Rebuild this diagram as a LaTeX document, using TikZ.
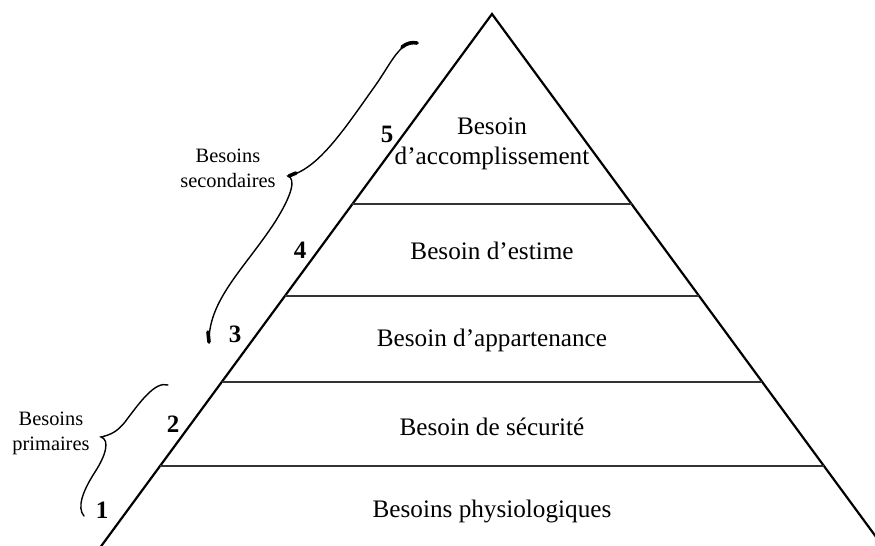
\documentclass[tikz,border=0pt]{standalone}
\usepackage{fontspec}
\setmainfont{Liberation Serif}
\usetikzlibrary{calc}

\begin{document}
\begin{tikzpicture}[x=0.5pt,y=-0.5pt,
        side/.style={line width=1.1pt},
        level/.style={line width=0.9pt, black!80},
        need/.style={font=\fontsize{12.6}{15}\selectfont, align=center, inner sep=0pt},
        num/.style={font=\bfseries\fontsize{12.5}{14}\selectfont, inner sep=0pt, anchor=base},
        group/.style={font=\fontsize{10.2}{12.5}\selectfont, align=center, inner sep=0pt},
        curly/.style={line width=0.7pt, line cap=round},
        blob/.style={line width=1.8pt, line cap=round}]
        \useasboundingbox (0,0) rectangle (875,546);
        \clip (0,0) rectangle (875,546);

        % Pyramid
        \coordinate (top) at (492,14);
        \coordinate (botl) at (91,560);
        \coordinate (botr) at (893,560);
        \draw[side] (botl) -- (top) -- (botr);

        % Levels
        \foreach \y in {204,296,382,466}
            \draw[level] ($(top)!{(\y-14)/546}!(botl)$) -- ($(top)!{(\y-14)/546}!(botr)$);

        % Needs
        \node[need] (accompl) at (492,144) {Besoin\\d'accomplissement};
        \node[need, anchor=base] (estime) at (492,259) {Besoin d'estime};
        \node[need, anchor=base] (appart) at (492,346) {Besoin d'appartenance};
        \node[need, anchor=base] (secur) at (492,435) {Besoin de sécurité};
        \node[need, anchor=base] (physio) at (492,517) {Besoins physiologiques};

        % Numbers
        \node[num] (n5) at (387,142) {5};
        \node[num] (n4) at (300,258) {4};
        \node[num] (n3) at (235,343) {3};
        \node[num] (n2) at (173,432) {2};
        \node[num] (n1) at (102,518) {1};

        % Braces
        \draw[curly] (418,43) .. controls (400,40) and (392,62) .. (375,86)
            .. controls (345,128) and (318,170) .. (288,176)
            .. controls (296,179) and (292,195) .. (275,222)
            .. controls (245,268) and (208,300) .. (209,343);
        \draw[blob] (417,43) .. controls (412,42) and (407,43) .. (402,47);
        \draw[blob] (289,176) -- (296,173);
        \draw[blob] (209,342) -- (208,332);
        \node[group] (second) at (228,168) {Besoins\\secondaires};

        \draw[curly] (168,385) .. controls (155,381) and (140,402) .. (125,422)
            .. controls (117,432) and (110,435) .. (101,437)
            .. controls (110,440) and (106,455) .. (95,472)
            .. controls (82,492) and (77,508) .. (84,516);
        \node[group] (prim) at (51,433) {Besoins\\primaires};
    \end{tikzpicture}
\end{document}
